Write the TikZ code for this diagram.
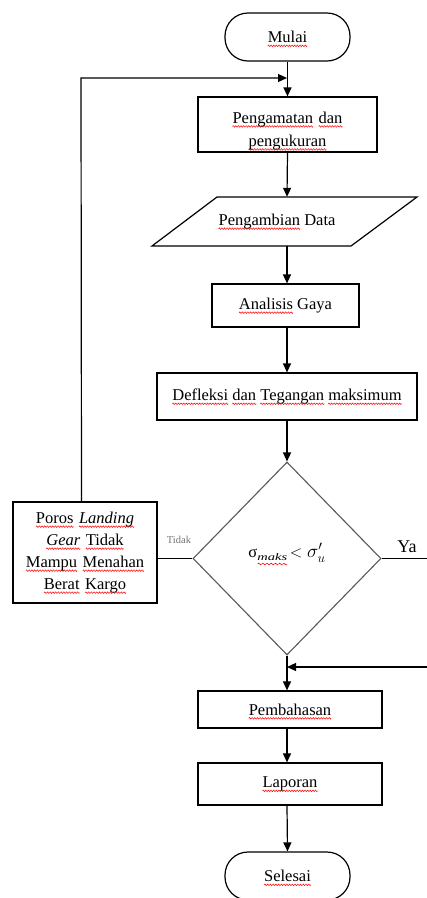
\documentclass[tikz,border=0pt]{standalone}
\usepackage{fix-cm}
\usepackage{graphicx}
\usepackage{fontspec}
\setmainfont{Liberation Serif}
\usetikzlibrary{arrows.meta,shapes.geometric}
\newsavebox\wavebox
\newsavebox\rwbox
\AtBeginDocument{\global\setbox\wavebox\hbox{\begin{pgfpicture}%
  \pgfsetstrokecolor{red}\pgfsetlinewidth{0.5pt}%
  \pgfpathmoveto{\pgfpoint{0pt}{0pt}}%
  \pgfpathlineto{\pgfpoint{0.65pt}{0.8pt}}%
  \pgfpathlineto{\pgfpoint{1.95pt}{-0.8pt}}%
  \pgfpathlineto{\pgfpoint{2.6pt}{0pt}}%
  \pgfusepath{stroke}%
  \pgfresetboundingbox
  \pgfpathrectangle{\pgfpoint{0pt}{0pt}}{\pgfpoint{2.6pt}{0.1pt}}%
  \pgfusepath{use as bounding box}%
  \end{pgfpicture}}}
\newcommand\rw[1]{\leavevmode\sbox\rwbox{#1}%
  \rlap{\smash{\lower3.2pt\hbox to \wd\rwbox{\xleaders\copy\wavebox\hfil}}}\usebox\rwbox}
\begin{document}
\begin{tikzpicture}[x=1pt,y=-1pt,
  box/.style={draw, line width=1.2pt, rectangle, inner sep=2pt, align=center,
    font=\fontsize{16.5}{22}\selectfont},
  term/.style={box, rounded corners=23pt},
  arr/.style={-{Triangle[length=9pt,width=8pt]}, line width=1.2pt},
  ln/.style={line width=1.2pt},
  txt/.style={inner sep=0pt, font=\fontsize{16.5}{22}\selectfont}]
\useasboundingbox (0,0) rectangle (427,898);
\fill[white] (0,0) rectangle (427,898);
% nodes
\node[term, minimum width=125pt, minimum height=48pt] (mulai) at (287.5,37) {\rw{Mulai}};
\node[box, minimum width=179pt, minimum height=55pt, text width=170pt] (amat) at (287.5,124.5) {\rule{0pt}{24pt}\rw{Pengamatan} \rw{dan}\\[1pt] \rw{pengukuran}};
\node[txt, minimum width=200pt, minimum height=49pt] (data) at (287,221.5) {\hspace*{-20pt}\rw{Pengambian} Data};
\draw[ln] (217,197) -- (417,197) -- (351,246) -- (152,246) -- cycle;
\node[box, minimum width=147pt, minimum height=43pt] (gaya) at (285.5,305.5) {\rw{Analisis} Gaya};
\node[box, minimum width=260pt, minimum height=47pt] (defl) at (287,396.5) {\rw{Defleksi} \rw{dan} \rw{Tegangan} \rw{maksimum}};
\node[diamond, draw=black!65, line width=1.1pt, minimum width=188pt, minimum height=193pt, inner sep=0pt] (dec) at (287,558.5) {};
\node[txt] (cond) at (287,553) {σ\raisebox{-3pt}{\scalebox{1.45}[1]{\fontsize{10}{10}\selectfont\itshape\rw{maks}}}\,$<$\;{\fontsize{19}{22}\selectfont$\sigma'_{u}$}};
\node[box, minimum width=144pt, minimum height=101pt, text width=140pt] (poros) at (85,552.5) {\rw{Poros} \textit{\rw{Landing}}\\ \textit{\rw{Gear}} \rw{Tidak}\\ \rw{Mampu} \rw{Menahan}\\ \rw{Berat} \rw{Kargo}};
\node[box, minimum width=184pt, minimum height=37pt] (pemb) at (290,709.5) {\rw{Pembahasan}};
\node[box, minimum width=184pt, minimum height=42pt] (lap) at (290,784) {\rw{Laporan}};
\node[term, minimum width=125pt, minimum height=48pt] (sel) at (287.5,876) {\rw{Selesai}};
% labels
\node[inner sep=0pt, text=black!55, font=\fontsize{10.5}{12}\selectfont] (tidak) at (179,540) {Tidak};
\node[inner sep=0pt, font=\fontsize{18}{22}\selectfont] (ya) at (407,547) {Ya};
% coordinates
\coordinate (j1) at (287,78);
\coordinate (lp) at (81,78);
\coordinate (yaend) at (427,557);
\coordinate (yaret) at (427,667);
\coordinate (j2) at (287,667);
% connectors
\draw[arr] (mulai.south) -- (amat.north);
\draw[arr] ([xshift=-3.5pt]poros.north) -- (lp) -- (j1);
\draw[arr] (amat.south) -- (data.north);
\draw[arr] (data.south) -- (data.south |- gaya.north);
\draw[arr] (data.south |- gaya.south) -- (defl.north);
\draw[arr] (defl.south) -- (dec.north);
\draw[ln] (dec.west) -- (dec.west -| poros.east);
\draw[ln] (dec.east) -- (dec.east -| yaend);
\draw[arr] (yaret) -- (j2);
\draw[arr] (dec.south) -- (dec.south |- pemb.north);
\draw[arr] (dec.south |- pemb.south) -- (dec.south |- lap.north);
\draw[arr] (dec.south |- lap.south) -- (sel.north);
\end{tikzpicture}
\end{document}
